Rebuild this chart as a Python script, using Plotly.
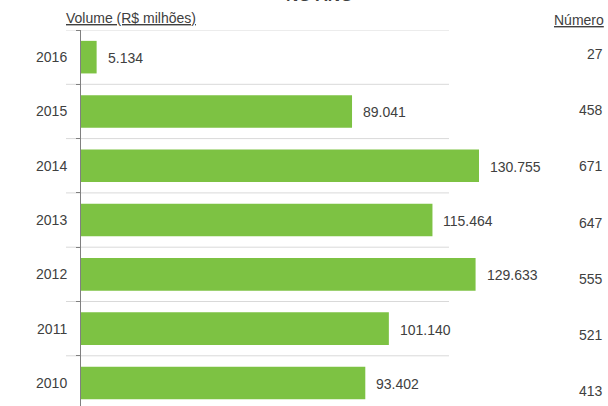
import plotly.graph_objects as go

years = ["2010", "2011", "2012", "2013", "2014", "2015", "2016"]
volume = [93.402, 101.140, 129.633, 115.464, 130.755, 89.041, 5.134]
volume_labels = ["93.402", "101.140", "129.633", "115.464", "130.755", "89.041", "5.134"]
numero = [413, 521, 555, 647, 671, 458, 27]

FONT = "Liberation Sans, Arial, sans-serif"
TXT = "#404040"
FS = 14
W, H = 608, 406
L, R, T, B = 81, 58, 30, 0
plot_w = W - L - R
plot_h = H - T - B
px_per_unit = 398 / 130.755
xmax = plot_w / px_per_unit
cat_px = 54.3
span = plot_h / cat_px

fig = go.Figure()
fig.add_trace(go.Bar(
    x=volume, y=years, orientation="h",
    marker=dict(color="#7DC243", line=dict(width=0)),
    width=0.6, hoverinfo="skip",
))

annotations = []
n = len(years)
for i, (v, lab, num) in enumerate(zip(volume, volume_labels, numero)):
    annotations.append(dict(x=v, y=i, xref="x", yref="y", text=lab, showarrow=False,
                            xanchor="left", xshift=9, yshift=-1,
                            font=dict(family=FONT, size=FS, color=TXT)))
    k = n - 1 - i
    ypix = 54 + k * 56.2
    annotations.append(dict(x=(605 - L) / plot_w, y=(H - ypix) / plot_h, xref="paper", yref="paper",
                            text=str(num), showarrow=False, xanchor="right", yanchor="middle",
                            font=dict(family=FONT, size=FS, color=TXT)))

annotations.append(dict(x=(64 - L) / plot_w, y=(H - 18) / plot_h, xref="paper", yref="paper",
                        text="<u>Volume (R$ milhões)</u>", showarrow=False, xanchor="left",
                        yanchor="middle", font=dict(family=FONT, size=FS, color=TXT)))
annotations.append(dict(x=(606 - L) / plot_w, y=(H - 20) / plot_h, xref="paper", yref="paper",
                        text="<u>Número</u>", showarrow=False, xanchor="right",
                        yanchor="middle", font=dict(family=FONT, size=FS, color=TXT)))
annotations.append(dict(x=(319 - L) / plot_w, y=(H + 5) / plot_h, xref="paper", yref="paper",
                        text="<b>NO ANO</b>", showarrow=False, xanchor="center",
                        yanchor="middle", font=dict(family=FONT, size=17, color=TXT)))

shapes = []
for i in range(n):
    yb = i + 0.5
    shapes.append(dict(type="line", xref="paper", yref="y",
                       x0=(66 - L) / plot_w, x1=(449 - L) / plot_w, y0=yb, y1=yb,
                       line=dict(color="#D9D9D9", width=1), layer="below"))

fig.update_layout(
    width=W, height=H,
    margin=dict(l=L, r=R, t=T, b=B, pad=0),
    plot_bgcolor="white", paper_bgcolor="white",
    showlegend=False,
    font=dict(family=FONT, size=FS, color=TXT),
    xaxis=dict(range=[0, xmax], showgrid=False, zeroline=False, showticklabels=False,
               showline=False, fixedrange=True),
    yaxis=dict(type="category", categoryorder="array", categoryarray=years,
               range=[6.5 - span, 6.5], showgrid=False, zeroline=False,
               showline=True, linecolor="#808080", linewidth=1,
               ticks="outside", tickson="boundaries", ticklen=4, tickcolor="#808080",
               ticklabelstandoff=10, fixedrange=True,
               tickfont=dict(family=FONT, size=FS, color=TXT)),
    annotations=annotations, shapes=shapes,
)

fig.write_html("out.html", config={"displayModeBar": False},
               post_script="document.body.style.margin='0';document.body.style.padding='0';")
